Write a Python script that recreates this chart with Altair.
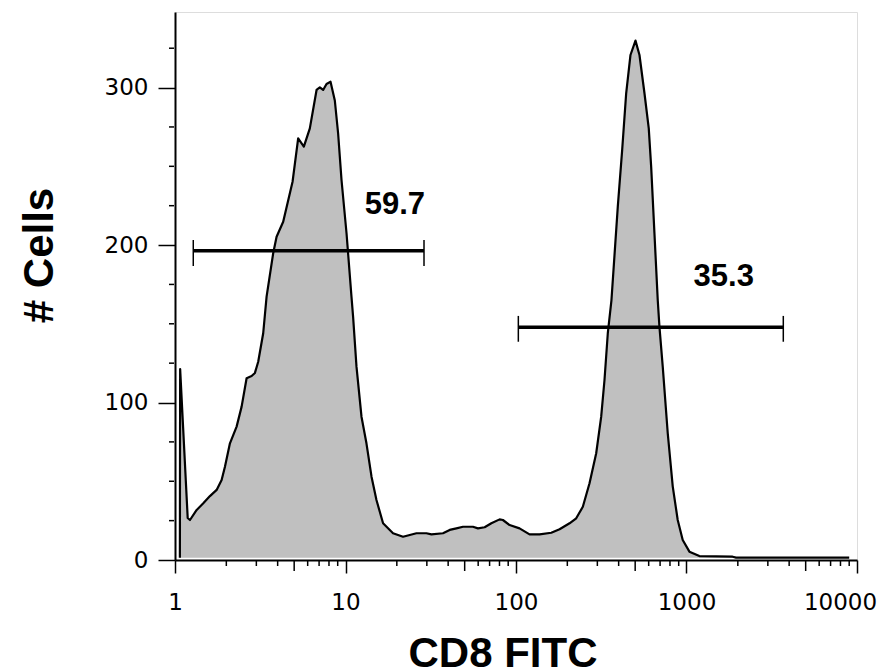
import altair as alt
import pandas as pd

# ---------------- data ----------------
cd8 = [1.068, 1.072, 1.187, 1.224, 1.340, 1.465, 1.603, 1.755, 1.877, 1.963,
       2.100, 2.298, 2.459, 2.630, 2.814, 2.943, 3.076, 3.291, 3.445, 3.766,
       3.943, 4.311, 4.892, 5.277, 5.697, 6.178, 6.765, 7.071, 7.393, 7.739,
       8.170, 8.657, 9.050, 9.476, 10.14, 10.84, 11.08, 11.60, 12.41, 13.27,
       14.21, 15.19, 16.61, 19.00, 21.75, 23.81, 26.06, 29.83, 31.90, 37.31,
       40.83, 44.70, 48.86, 55.91, 59.81, 65.46, 71.68, 80.16, 83.81, 91.73,
       104.9, 120.1, 137.5, 161.0, 180.1, 206.1, 225.5, 246.6, 269.9, 295.4,
       316.0, 330.4, 345.5, 363.0, 395.4, 419.5, 442.8, 469.3, 502.1, 529.9,
       566.9, 600.7, 620.5, 648.6, 678.1, 693.8, 725.5, 776.2, 830.3, 888.1,
       950.2, 1040, 1190, 1865, 1953, 9001]
cells = [1.5, 121.3, 26.7, 25.4, 31.8, 36.0, 40.6, 44.5, 50.8, 59.2,
         74.1, 84.7, 97.4, 115.4, 116.8, 118.8, 125.9, 144.0, 167.2, 194.8,
         205.3, 214.8, 240.2, 267.8, 262.5, 274.1, 298.5, 300.2, 298.5, 302.3,
         303.7, 291.8, 271.0, 241.3, 207.5, 167.2, 154.5, 122.8, 91.0, 74.1,
         52.9, 38.1, 23.3, 17.0, 14.8, 15.9, 17.0, 17.0, 16.3, 17.0,
         19.1, 20.1, 21.1, 21.1, 20.1, 20.8, 23.3, 25.8, 25.4, 22.2,
         20.1, 16.3, 16.3, 17.3, 19.5, 23.3, 26.5, 33.8, 48.7, 67.8,
         91.0, 114.3, 144.0, 165.1, 224.4, 260.4, 296.4, 320.7, 329.8, 320.7,
         296.4, 274.1, 249.8, 207.5, 165.1, 148.2, 122.8, 80.5, 46.8, 25.4,
         12.7, 5.3, 2.5, 2.1, 1.5, 1.5]
baseline = 1.5

gate_lo = [1.28, 103.2]
gate_hi = [28.87, 3696]
gate_y = [196.4, 147.8]
gate_top = [203.2, 155.0]
gate_bot = [186.7, 138.6]

gate_text = ["59.7", "35.3"]
text_x = [19.5, 1653]
text_y = [219.7, 174.2]

x_major = [1, 10, 100, 1000, 10000]
x_mid = [5, 50, 500, 5000]
x_minor = [2, 3, 4, 6, 7, 8, 9, 20, 30, 40, 60, 70, 80, 90,
           200, 300, 400, 600, 700, 800, 900, 2000, 3000, 4000, 6000, 7000, 8000, 9000]
y_major = [0, 100, 200, 300]
y_minor = [25, 50, 75, 125, 150, 175, 225, 250, 275, 325]

# ---------------- tables ----------------
hist = pd.DataFrame({"cd8": cd8, "cells": cells})
gates = pd.DataFrame({"lo": gate_lo, "hi": gate_hi, "cells": gate_y,
                      "top": gate_top, "bot": gate_bot})
ends = pd.DataFrame({"cd8": gate_lo + gate_hi, "top": gate_top * 2, "bot": gate_bot * 2})
labels = pd.DataFrame({"cd8": text_x, "cells": text_y, "t": gate_text})
xmin_df = pd.DataFrame({"cd8": x_minor})
xmid_df = pd.DataFrame({"cd8": x_mid})
ymin_df = pd.DataFrame({"cells": y_minor})

W, H = 682, 548
xs = alt.Scale(type="log", domain=[1, 10000], nice=False)
ys = alt.Scale(domain=[0, 348], nice=False, zero=False)

x_axis = alt.Axis(values=x_major, format="d", title="CD8 FITC",
                  tickSize=13, tickWidth=1.5, tickColor="black",
                  domainWidth=2, domainColor="black",
                  labelFont="DejaVu Sans", labelFontSize=23, labelColor="black",
                  labelPadding=18, labelOverlap=False, labelFlush=False,
                  labelOffset={"condition": {"test": "datum.value === 10000", "value": -17},
                               "value": 0},
                  titleFont="Liberation Sans", titleFontSize=42, titleFontWeight="bold",
                  titleColor="black", titleX=327.5, titleY=106,
                  titleAlign="center", titleBaseline="alphabetic", grid=False)
y_axis = alt.Axis(values=y_major, format="d", title="# Cells",
                  tickSize=17, tickWidth=1.5, tickColor="black",
                  domainWidth=2, domainColor="black",
                  labelFont="DejaVu Sans", labelFontSize=23, labelColor="black",
                  labelPadding=10, labelOverlap=False, labelFlush=False,
                  titleFont="Liberation Sans", titleFontSize=42, titleFontWeight="bold",
                  titleColor="black", titleAngle=270, titleX=-123, titleY=243,
                  titleAlign="center", titleBaseline="alphabetic", grid=False)

X = lambda f="cd8": alt.X(f"{f}:Q", scale=xs, axis=x_axis)
Y = lambda f="cells": alt.Y(f"{f}:Q", scale=ys, axis=y_axis)

area = alt.Chart(hist).mark_area(color="#c0c0c0", opacity=1).encode(
    x=X(), y=Y(), y2=alt.datum(baseline))
line = alt.Chart(hist).mark_line(color="black", strokeWidth=2.2, strokeJoin="round").encode(
    x=X(), y=Y())

bars = alt.Chart(gates).mark_rule(color="black", strokeWidth=3.5).encode(
    x=X("lo"), x2="hi", y=Y())
end_ticks = alt.Chart(ends).mark_rule(color="black", strokeWidth=1.5).encode(
    x=X(), y=Y("top"), y2="bot")
txt = alt.Chart(labels).mark_text(font="Liberation Sans", fontSize=31, fontWeight="bold",
                                  color="black", align="center", baseline="alphabetic").encode(
    x=X(), y=Y(), text="t:N")

xminor = alt.Chart(xmin_df).mark_rule(color="black", strokeWidth=1.5).encode(
    x=X(), y=alt.value(H + 1), y2=alt.value(H + 6))
xmid = alt.Chart(xmid_df).mark_rule(color="black", strokeWidth=1.5).encode(
    x=X(), y=alt.value(H + 1), y2=alt.value(H + 11))
yminor = alt.Chart(ymin_df).mark_rule(color="black", strokeWidth=1.5).encode(
    y=Y(), x=alt.value(-6), x2=alt.value(-1))

chart = alt.layer(area, line, bars, end_ticks, txt, xminor, xmid, yminor).properties(
    width=W, height=H,
    autosize=alt.AutoSizeParams(type="none"),
    padding={"left": 175, "top": 12, "right": 25, "bottom": 109},
).configure_view(stroke="#111", strokeWidth=2).configure(background="white")

chart.save("out.html", embed_options={"renderer": "svg", "actions": False})
